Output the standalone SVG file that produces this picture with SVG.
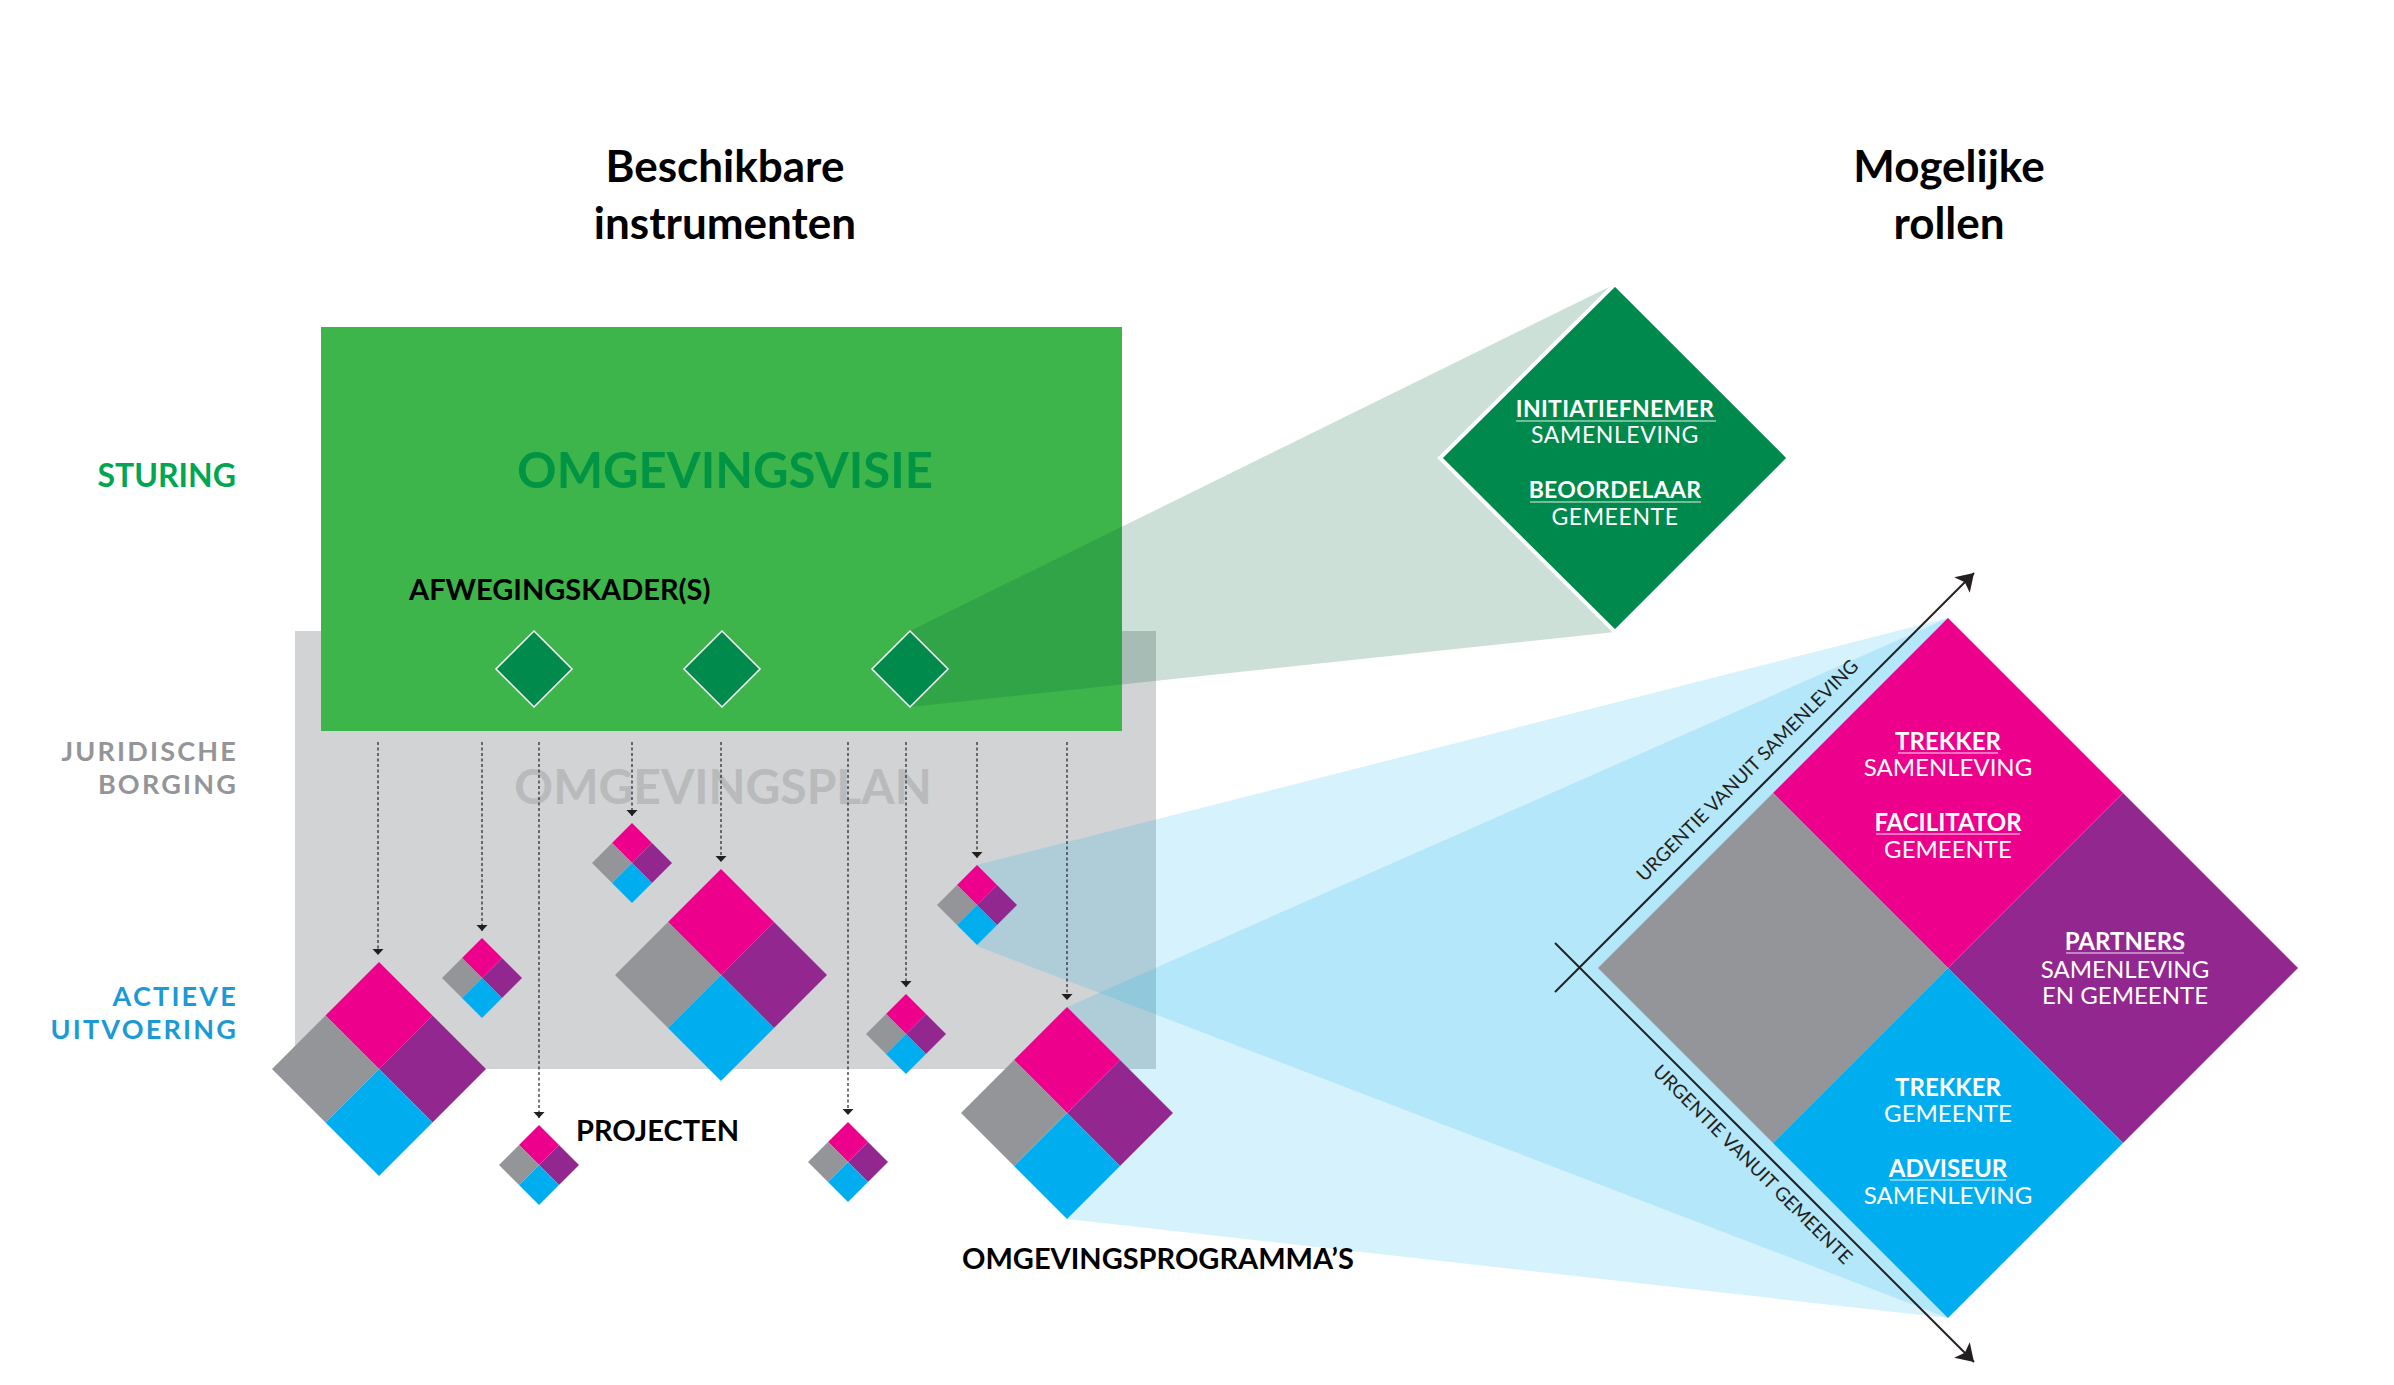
<svg xmlns="http://www.w3.org/2000/svg" width="2394" height="1385" viewBox="0 0 2394 1385">
<style>
text{font-family:Lato,"Liberation Sans",sans-serif}
.h{font-size:44px;font-weight:700;fill:#000;text-anchor:middle}
.lab{font-size:32px;font-weight:700;text-anchor:end}
.lab2{font-size:27px;font-weight:700;text-anchor:end;letter-spacing:2.2px}
.big{font-size:49px;font-weight:700;text-anchor:middle}
.blk{font-size:29px;font-weight:700;fill:#000}
.w{fill:#fff;text-anchor:middle}
.wb{font-size:24px;font-weight:700}
.wr{font-size:24px;font-weight:400}
.gb{font-size:23px;font-weight:700;letter-spacing:0.3px}
.gr{font-size:23px;font-weight:400;letter-spacing:0.6px}
.ul{stroke:#fff;stroke-opacity:.6;stroke-width:1.5}
.ax{stroke:#231f20;stroke-width:2;fill:none}
.axt{font-size:19px;fill:#231f20;text-anchor:middle}
.dl{stroke:#231f20;stroke-width:1.2;stroke-dasharray:3 2.5;fill:none}
.mg{fill:#ec008c}.gy{fill:#939598}.pu{fill:#92278f}.cy{fill:#00aeef}
.q polygon{stroke:#fff;vector-effect:non-scaling-stroke;stroke-linejoin:miter}
.sg{fill:#008a4b;stroke:#fff;stroke-width:1.5}
</style>
<defs>
<g id="q4">
<polygon class="mg" points="0,-100 50,-50 0,0 -50,-50"/>
<polygon class="gy" points="-50,-50 0,0 -50,50 -100,0"/>
<polygon class="pu" points="50,-50 100,0 50,50 0,0"/>
<polygon class="cy" points="0,0 50,50 0,100 -50,50"/>
</g>
<marker id="ah" markerUnits="userSpaceOnUse" markerWidth="8" markerHeight="12" refX="6" refY="5.5" orient="auto"><path d="M0,0 L6,5.5 L0,11 Z" fill="#231f20"/></marker>
<marker id="aa" markerUnits="userSpaceOnUse" markerWidth="20" markerHeight="24" refX="17" refY="12" orient="auto"><path d="M0,1 L17,12 L0,23 L4,12 Z" fill="#231f20"/></marker>
</defs>
<rect width="2394" height="1385" fill="#fff"/>

<g id="headings">
<text class="h" x="725" y="182">Beschikbare</text>
<text class="h" x="725" y="239">instrumenten</text>
<text class="h" x="1949" y="182">Mogelijke</text>
<text class="h" x="1949" y="239">rollen</text>
</g>

<g id="row-labels">
<text class="lab" x="236" y="487" fill="#00a651">STURING</text>
<text class="lab2" fill="#939598"><tspan x="238" y="761">JURIDISCHE</tspan><tspan x="238" y="794">BORGING</tspan></text>
<text class="lab2" fill="#1b9ad6"><tspan x="238" y="1006">ACTIEVE</tspan><tspan x="238" y="1039">UITVOERING</tspan></text>
</g>

<g id="omgevingsplan">
<rect x="295" y="631" width="861" height="438" fill="#d1d3d4"/>
</g>
<g id="omgevingsvisie">
<rect x="321" y="327" width="801" height="404" fill="#3db54a"/>
<text class="big" x="725" y="488" fill="#009444">OMGEVINGSVISIE</text>
</g>
<text class="big" x="723" y="804" fill="#b9babc" style="font-size:48px">OMGEVINGSPLAN</text>
<text class="blk" x="409" y="600">AFWEGINGSKADER(S)</text>

<g id="projections">
<polygon points="910,631 1615,284 1615,632 910,707" fill="#00643a" fill-opacity="0.2"/>
<polygon points="977,865 1948,618 1948,1318 977,946" fill="#00aeef" fill-opacity="0.16"/>
<polygon points="1067,1007 1948,618 1948,1318 1067,1219" fill="#00aeef" fill-opacity="0.16"/>
</g>

<g id="connectors">
<line class="dl" x1="378" y1="742" x2="378" y2="955" marker-end="url(#ah)"/>
<line class="dl" x1="482" y1="742" x2="482" y2="931" marker-end="url(#ah)"/>
<line class="dl" x1="539" y1="742" x2="539" y2="1118" marker-end="url(#ah)"/>
<line class="dl" x1="632" y1="742" x2="632" y2="816" marker-end="url(#ah)"/>
<line class="dl" x1="721" y1="742" x2="721" y2="862" marker-end="url(#ah)"/>
<line class="dl" x1="848" y1="742" x2="848" y2="1115" marker-end="url(#ah)"/>
<line class="dl" x1="906" y1="742" x2="906" y2="987" marker-end="url(#ah)"/>
<line class="dl" x1="977" y1="742" x2="977" y2="858" marker-end="url(#ah)"/>
<line class="dl" x1="1067" y1="742" x2="1067" y2="1000" marker-end="url(#ah)"/>
<line class="ax" x1="1555" y1="992" x2="1974" y2="573" marker-end="url(#aa)"/>
<line class="ax" x1="1555" y1="943" x2="1974" y2="1362" marker-end="url(#aa)"/>
</g>

<g id="afwegingskaders">
<polygon class="sg" points="534,631 572,669 534,707 496,669"/>
<polygon class="sg" points="722,631 760,669 722,707 684,669"/>
<polygon class="sg" points="910,631 948,669 910,707 872,669"/>
</g>

<g id="projecten" class="q">
<use href="#q4" transform="translate(379,1069) scale(1.07)" stroke-width="2.5"/>
<use href="#q4" transform="translate(482,978) scale(0.4)" stroke-width="1.5"/>
<use href="#q4" transform="translate(539,1165) scale(0.4)" stroke-width="1.5"/>
<use href="#q4" transform="translate(632,863) scale(0.4)" stroke-width="1.5"/>
<use href="#q4" transform="translate(721,975) scale(1.06)" stroke-width="2.5"/>
<use href="#q4" transform="translate(848,1162) scale(0.4)" stroke-width="1.5"/>
<use href="#q4" transform="translate(906,1034) scale(0.4)" stroke-width="1.5"/>
<use href="#q4" transform="translate(977,905) scale(0.4)" stroke-width="1.5"/>
<use href="#q4" transform="translate(1067,1113) scale(1.06)" stroke-width="2.5"/>
</g>
<text class="blk" x="576" y="1141">PROJECTEN</text>
<text class="blk" x="962" y="1269">OMGEVINGSPROGRAMMA’S</text>

<g id="rol-sturing">
<polygon points="1615,284 1789,458 1615,632 1440,458" fill="#00894c" stroke="#fff" stroke-width="4"/>
<text class="w gb" x="1615" y="417">INITIATIEFNEMER</text>
<line class="ul" x1="1516" y1="421" x2="1716" y2="421"/>
<text class="w gr" x="1615" y="443">SAMENLEVING</text>
<text class="w gb" x="1615" y="498">BEOORDELAAR</text>
<line class="ul" x1="1530" y1="502" x2="1701" y2="502"/>
<text class="w gr" x="1615" y="525">GEMEENTE</text>
</g>

<g id="rollen" class="q">
<use href="#q4" transform="translate(1948,968) scale(3.5)" stroke-width="5"/>
</g>
<g id="rol-teksten">
<text class="w wb" x="1948" y="750">TREKKER</text>
<line class="ul" x1="1898" y1="753" x2="1998" y2="753"/>
<text class="w wr" x="1948" y="776">SAMENLEVING</text>
<text class="w wb" x="1948" y="831">FACILITATOR</text>
<line class="ul" x1="1876" y1="834" x2="2020" y2="834"/>
<text class="w wr" x="1948" y="858">GEMEENTE</text>
<text class="w wb" x="2125" y="950">PARTNERS</text>
<line class="ul" x1="2066" y1="953" x2="2184" y2="953"/>
<text class="w wr" x="2125" y="978">SAMENLEVING</text>
<text class="w wr" x="2125" y="1004">EN GEMEENTE</text>
<text class="w wb" x="1948" y="1096">TREKKER</text>
<text class="w wr" x="1948" y="1122">GEMEENTE</text>
<text class="w wb" x="1948" y="1177">ADVISEUR</text>
<line class="ul" x1="1890" y1="1180" x2="2006" y2="1180"/>
<text class="w wr" x="1948" y="1204">SAMENLEVING</text>
</g>

<g id="assen">
<text class="axt" transform="translate(1752,775) rotate(-45)">URGENTIE VANUIT SAMENLEVING</text>
<text class="axt" transform="translate(1748,1169) rotate(45)">URGENTIE VANUIT GEMEENTE</text>
</g>
</svg>
